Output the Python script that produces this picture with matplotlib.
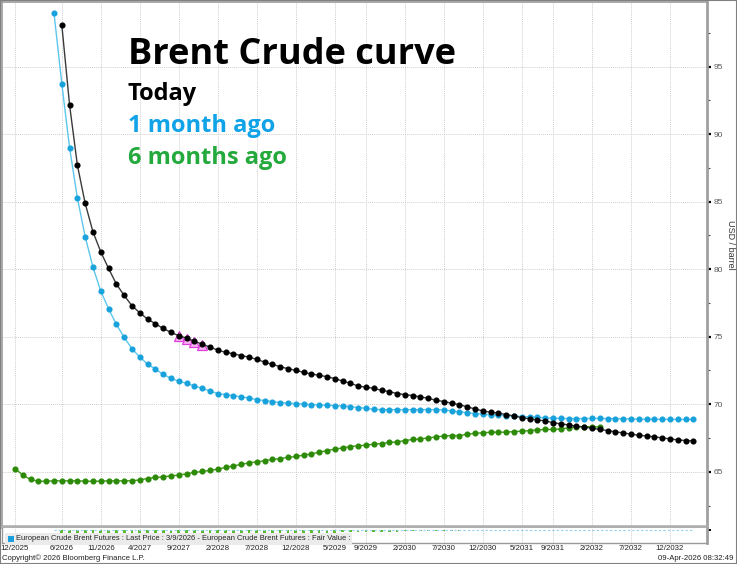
import matplotlib
matplotlib.use("Agg")
import matplotlib.pyplot as plt
import numpy as np
import pandas as pd
from matplotlib.patches import Rectangle
from matplotlib.ticker import MultipleLocator, FixedLocator, NullFormatter

# ---------------- data ----------------
axis_origin = "2025-12"
tick_labels = ["12/2025", "6/2026", "11/2026", "4/2027", "9/2027", "2/2028", "7/2028",
               "12/2028", "5/2029", "9/2029", "2/2030", "7/2030", "12/2030", "5/2031",
               "9/2031", "2/2032", "7/2032", "12/2032"]

today_start = "2026-06"
today_values = [98.10, 92.15, 87.70, 84.87, 82.76, 81.28, 80.05, 78.90, 78.05, 77.29,
                76.77, 76.30, 75.96, 75.61, 75.32, 75.07, 74.90, 74.67, 74.45, 74.23,
                74.01, 73.84, 73.74, 73.60, 73.49, 73.32, 73.12, 72.95, 72.78, 72.63,
                72.51, 72.36, 72.24, 72.14, 72.04, 71.90, 71.72, 71.55, 71.35, 71.26,
                71.18, 71.03, 70.93, 70.79, 70.71, 70.64, 70.54, 70.44, 70.29, 70.20,
                70.07, 69.97, 69.80, 69.65, 69.50, 69.40, 69.35, 69.23, 69.13, 69.01,
                68.91, 68.84, 68.76, 68.64, 68.54, 68.47, 68.37, 68.32, 68.22, 68.13,
                68.05, 67.95, 67.88, 67.78, 67.70, 67.65, 67.58, 67.51, 67.43, 67.36,
                67.31, 67.28]

month_ago_start = "2026-05"
month_ago_values = [98.97, 93.74, 88.99, 85.27, 82.41, 80.14, 78.37, 77.07, 75.91, 74.95,
                    74.11, 73.49, 72.97, 72.60, 72.21, 71.92, 71.70, 71.55, 71.35, 71.18,
                    70.98, 70.79, 70.71, 70.64, 70.54, 70.46, 70.34, 70.27, 70.20, 70.12,
                    70.07, 70.05, 70.00, 69.97, 69.95, 69.92, 69.90, 69.87, 69.82, 69.75,
                    69.70, 69.62, 69.60, 69.60, 69.60, 69.60, 69.60, 69.60, 69.60, 69.60,
                    69.58, 69.50, 69.43, 69.38, 69.31, 69.26, 69.21, 69.18, 69.16, 69.13,
                    69.09, 69.06, 69.04, 68.99, 68.96, 68.95, 68.94, 68.93, 68.94, 68.95,
                    68.95, 68.94, 68.93, 68.92, 68.91, 68.90, 68.89, 68.89, 68.88, 68.88,
                    68.87, 68.87, 68.87]

six_months_start = "2025-12"
six_months_values = [65.24, 64.75, 64.43, 64.30, 64.30, 64.33, 64.33, 64.33, 64.33, 64.30,
                     64.30, 64.30, 64.33, 64.33, 64.33, 64.33, 64.40, 64.50, 64.58, 64.62,
                     64.70, 64.75, 64.85, 64.95, 65.02, 65.10, 65.19, 65.32, 65.44, 65.54,
                     65.66, 65.73, 65.81, 65.91, 65.98, 66.06, 66.13, 66.23, 66.32, 66.45,
                     66.57, 66.67, 66.77, 66.87, 66.92, 66.97, 67.04, 67.09, 67.17, 67.21,
                     67.31, 67.39, 67.43, 67.51, 67.58, 67.65, 67.68, 67.68, 67.78, 67.85,
                     67.88, 67.93, 67.93, 67.93, 67.98, 68.00, 68.05, 68.10, 68.13, 68.13,
                     68.17, 68.25, 68.32, 68.32, 68.35, 68.30]

highlight_months = ["2027-09", "2027-10", "2027-11", "2027-12"]
y_ticks = [65, 70, 75, 80, 85, 90, 95]

# ---------------- helpers ----------------
W, H, DPI = 737, 564, 100
origin = pd.Period(axis_origin, "M")


def midx(s):
    return (pd.Period(s, "M") - origin).n


def label_idx(lbl):
    m, y = lbl.split("/")
    return (pd.Period(year=int(y), month=int(m), freq="M") - origin).n


def series_x(start, vals):
    s = midx(start)
    return np.arange(s, s + len(vals))


def fx(px):
    return px / W


def fy(py):
    return 1 - py / H


SMALL = ["Liberation Sans", "DejaVu Sans"]
BIG = ["Open Sans", "DejaVu Sans"]
MS = 3.4

fig = plt.figure(figsize=(W / DPI, H / DPI), dpi=DPI)
fig.patch.set_facecolor("white")

ax = fig.add_axes([fx(2), fy(527), fx(705), 525 / H])
ax2 = fig.add_axes([fx(2), fy(543), fx(705), 15 / H], sharex=ax)

x_today = series_x(today_start, today_values)
x_month = series_x(month_ago_start, month_ago_values)
x_six = series_x(six_months_start, six_months_values)

ax.plot(x_six, six_months_values, color="#3f9d16", lw=1.0, marker="o", ms=MS,
        mfc="#2c8a08", mec="#2c8a08", zorder=3)
ax.plot(x_month, month_ago_values, color="#5cc6ec", lw=1.0, marker="o", ms=MS,
        mfc="#18a2dc", mec="#18a2dc", zorder=4)
hl_x = [midx(m) for m in highlight_months]
hl_y = [today_values[list(x_today).index(i)] for i in hl_x]
ax.plot(hl_x, np.array(hl_y) - 0.05, ls="none", marker="^", ms=6.5, mfc="#f7b2f2",
        mec="#e040dc", mew=0.9, zorder=5)
ax.plot(x_today, today_values, color="#3a3a3a", lw=1.0, marker="o", ms=MS,
        mfc="black", mec="black", zorder=6)

tick_pos = [label_idx(l) for l in tick_labels]
ax.set_xlim(-1.667, 88.74)
ax.set_ylim(60.91, 99.78)

grid_kw = dict(color="#cfcfcf", lw=0.7, ls=(0, (1, 1)))
ax.xaxis.set_major_locator(FixedLocator(tick_pos))
ax.yaxis.set_major_locator(FixedLocator(y_ticks))
ax.yaxis.set_minor_locator(MultipleLocator(2.5))
ax.grid(True, which="major", **grid_kw)
ax.tick_params(axis="x", which="both", length=0, labelbottom=False)
ax.yaxis.tick_right()
ax.tick_params(axis="y", which="major", direction="out", length=3, width=1.6,
               color="black", labelsize=6, labelcolor="#5a5a5a", pad=1.5)
ax.tick_params(axis="y", which="minor", direction="out", length=2, width=0.8,
               color="#444444")
for lab in ax.get_yticklabels():
    lab.set_fontfamily(SMALL)

for side in ["left", "top"]:
    ax.spines[side].set_color("#9a9a9a")
    ax.spines[side].set_linewidth(1.2)
ax.spines["right"].set_color("#a0a0a0")
ax.spines["right"].set_linewidth(2.0)
ax.spines["bottom"].set_color("#b0b0b0")
ax.spines["bottom"].set_linewidth(2.6)

# lower panel: spread between today and 1 month ago
ov = [i for i in x_today if i in set(x_month)]
spread = np.array([today_values[list(x_today).index(i)] - month_ago_values[list(x_month).index(i)]
                   for i in ov])
pos = spread > 0.5
ax2.bar(np.array(ov)[pos], spread[pos], width=0.35, color="#5cb82c", zorder=2)
ax2.plot(x_month, np.zeros(len(x_month)), color="#8fd3f0", lw=0.8, ls=(0, (2, 2)), zorder=3)
ax2.set_ylim(9.0, -1.2)
ax2.grid(True, axis="x", **grid_kw)
ax2.yaxis.tick_right()
ax2.set_yticks([0])
ax2.yaxis.set_major_formatter(NullFormatter())
ax2.tick_params(axis="y", length=3, width=1.4, color="black")
ax2.set_xticks(tick_pos)
ax2.set_xticklabels(tick_labels)
ax2.tick_params(axis="x", length=0, pad=1.2, labelsize=5.7, labelcolor="#222222")
for lab in ax2.get_xticklabels():
    lab.set_fontfamily(SMALL)
for side in ["left", "bottom"]:
    ax2.spines[side].set_color("#9a9a9a")
    ax2.spines[side].set_linewidth(1.0)
ax2.spines["right"].set_color("#a0a0a0")
ax2.spines["right"].set_linewidth(2.0)
ax2.spines["top"].set_visible(False)

# legend strip in lower panel
fig.add_artist(Rectangle((fx(5), fy(544)), fx(347), 11 / H, transform=fig.transFigure,
                         facecolor="#ebebeb", edgecolor="none", zorder=5))
fig.add_artist(Rectangle((fx(8), fy(542)), fx(6), 6 / H, transform=fig.transFigure,
                         facecolor="#1aa0dc", edgecolor="none", zorder=6))
fig.text(fx(16), fy(539), "European Crude Brent Futures : Last Price : 3/9/2026 - "
         "European Crude Brent Futures : Fair Value :", fontsize=5.4, family=SMALL,
         color="#222222", va="center", ha="left", zorder=7)

# annotations
fig.text(fx(128), fy(64), "Brent Crude curve", fontsize=26, family=BIG, weight="bold",
         color="black", va="baseline", ha="left")
fig.text(fx(128), fy(100), "Today", fontsize=17, family=BIG, weight="bold",
         color="black", va="baseline", ha="left")
fig.text(fx(128), fy(132), "1 month ago", fontsize=17, family=BIG, weight="bold",
         color="#11a3e8", va="baseline", ha="left")
fig.text(fx(128), fy(164), "6 months ago", fontsize=17, family=BIG, weight="bold",
         color="#24aa3c", va="baseline", ha="left")

fig.text(fx(730), fy(245), "USD / barrel", rotation=270, fontsize=6.5, family=SMALL,
         color="#333333", va="center", ha="center")
fig.text(fx(2), fy(558), "Copyright\u00a9 2026 Bloomberg Finance L.P.", fontsize=5.6,
         family=SMALL, color="#222222", va="center", ha="left")
fig.text(fx(733), fy(558), "09-Apr-2026 08:32:49", fontsize=5.6, family=SMALL,
         color="#222222", va="center", ha="right")

fig.add_artist(Rectangle((0, 0), 1, 1, transform=fig.transFigure, fill=False,
                         edgecolor="#808080", lw=1.5, zorder=10))

fig.savefig("out.png", dpi=DPI)
